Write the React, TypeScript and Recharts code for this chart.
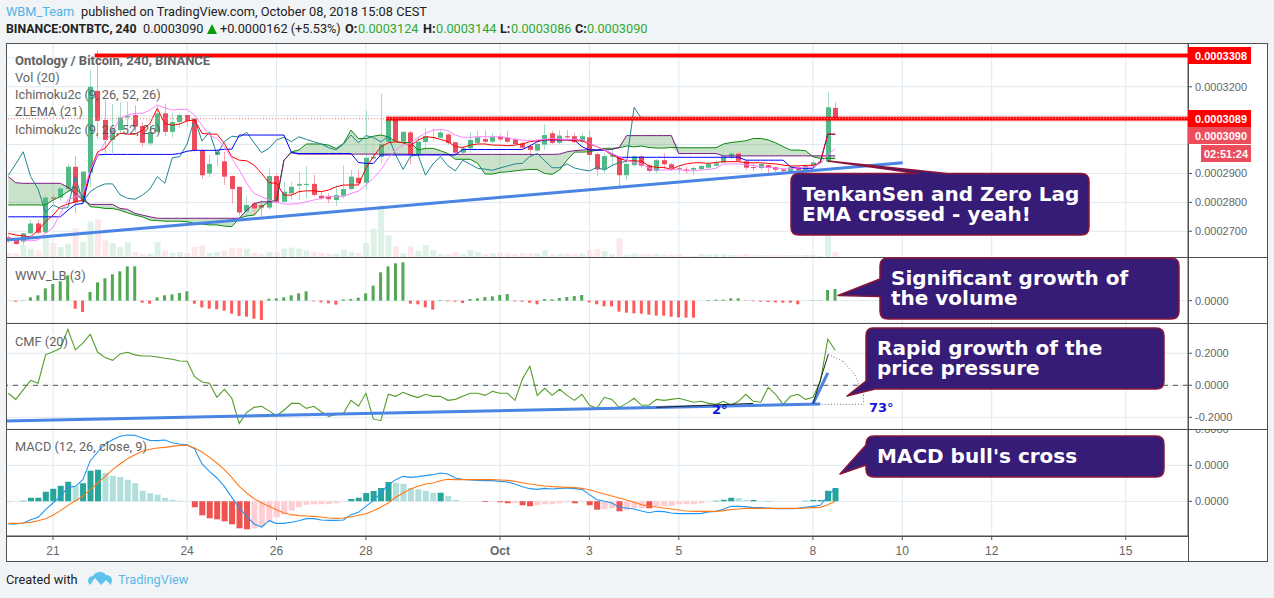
import {
  Area,
  Bar,
  CartesianGrid,
  Cell,
  ComposedChart,
  Line,
  ReferenceLine,
  XAxis,
  YAxis,
} from "recharts";

// ONTBTC 4h candles, prices in units of 1e-7 BTC
const opens = [
  2679,2670,2664,2693,2727,2696,2817,2817,2846,2923,
  2802,2903,3186,3085,3016,3050,3094,3102,3064,3004,
  3044,3108,3044,3078,3102,3090,2979,2900,2964,2942,
  2891,2854,2768,2796,2791,2782,2891,2802,2831,2858,
  2860,2864,2823,2820,2808,2823,2846,2885,2868,2952,
  2958,3010,3090,3010,3042,2967,3009,3024,3024,3035,
  3008,2972,2987,3006,3019,3010,3027,3024,3019,3004,
  2995,2979,3000,3039,3006,3029,3029,3010,3025,2967,
  2914,2958,2956,2894,2929,2959,2928,2909,2946,2932,
  2918,2914,2913,2915,2920,2927,2938,2958,2969,2942,
  2922,2919,2929,2922,2914,2907,2921,2912,2927,2938,2941,3127,
];
const closes = [
  2667,2656,2693,2727,2695,2817,2813,2848,2923,2800,
  2906,3200,3082,3016,3050,3094,3099,3062,3006,3044,
  3108,3044,3078,3102,3082,2981,2894,2933,2975,2889,
  2846,2765,2791,2779,2782,2891,2802,2837,2854,2864,
  2864,2826,2814,2811,2825,2846,2889,2866,2954,2958,
  3002,3090,3012,3044,2966,3010,3029,3026,3042,3006,
  2972,2987,3016,3025,3010,3027,3018,3010,3002,2989,
  2982,3002,3033,3006,3031,3025,3009,3029,2964,2914,
  2960,2964,2894,2933,2959,2927,2909,2946,2932,2918,
  2915,2911,2919,2926,2933,2935,2959,2969,2944,2920,
  2920,2933,2919,2913,2909,2921,2912,2927,2938,2941,3129,3090,
];
const highs = [
  2687,2672,2695,2739,2739,2831,2825,2855,2930,2960,
  2910,3260,3327,3154,3140,3148,3148,3136,3079,3073,
  3136,3142,3108,3108,3104,3092,2985,2965,2981,2975,
  2893,2855,2820,2802,2808,2917,2900,2871,2871,2906,
  2925,2895,2837,2831,2860,2928,2912,2912,3119,3021,
  3177,3102,3092,3048,3048,3027,3056,3056,3050,3038,
  3010,2995,3044,3048,3050,3040,3035,3048,3024,3012,
  3000,3016,3070,3048,3050,3050,3040,3040,3050,2972,
  2970,2985,2958,2935,2964,2965,2932,2950,2970,2936,
  2925,2925,2925,2930,2938,2945,2980,2975,2975,2945,
  2932,2938,2932,2925,2916,2926,2925,2932,2945,2945,3181,3146,
];
const lows = [
  2660,2654,2652,2687,2690,2692,2795,2805,2840,2762,
  2795,2853,3021,2969,2970,3040,3056,3044,2992,2995,
  3040,3030,3024,3056,3062,2972,2882,2888,2925,2860,
  2796,2755,2750,2756,2750,2774,2796,2800,2808,2808,
  2814,2820,2808,2797,2788,2814,2843,2864,2843,2948,
  2935,2981,3005,3004,2932,2960,2970,3010,3020,3000,
  2965,2965,2970,3000,3006,3005,3012,3005,3000,2984,
  2964,2975,2981,3000,3002,3018,3005,3004,2941,2892,
  2900,2925,2846,2877,2923,2920,2903,2900,2915,2915,
  2900,2900,2895,2910,2914,2922,2935,2950,2940,2912,
  2910,2910,2900,2905,2905,2900,2908,2905,2925,2935,2935,3088,
];
const volumes = [
  12,10,35,25,20,60,42,30,40,87,
  45,107,113,50,42,30,45,15,10,10,
  45,20,12,15,12,30,35,12,15,20,
  28,28,25,12,10,15,15,25,28,25,
  20,15,12,10,10,22,15,12,42,85,
  155,65,32,11,31,19,36,21,9,9,
  15,9,21,15,9,11,13,11,9,11,
  11,11,21,9,9,11,9,11,21,24,
  18,9,56,6,11,8,8,8,7,7,
  9,3,3,9,7,9,9,6,6,9,
  6,6,6,6,6,6,6,6,6,3,120,15,
];
const tenkan = [
  2693,2687,2684,2681,2704,2733,2756,2785,2794,2802,
  2808,2912,2975,2987,3021,3039,3036,3036,3050,3073,
  3125,3073,3067,3071,3082,3085,3039,3036,3036,3004,
  2958,2946,2944,2929,2900,2868,2866,2825,2825,2837,
  2840,2840,2837,2843,2854,2860,2860,2860,2918,2958,
  2992,3006,3010,3006,2995,3016,3027,3025,3018,3010,
  2993,2990,2998,3002,3002,2998,2998,2996,2998,3002,
  3010,3013,3016,3018,3016,3016,3013,3013,3002,2993,
  2981,2964,2952,2944,2944,2942,2926,2921,2921,2914,
  2926,2933,2937,2937,2935,2938,2941,2941,2941,2937,
  2937,2937,2935,2933,2929,2926,2926,2928,2928,2937,3036,3036,
];
const kijun = [
  2750,2750,2750,2750,2750,2750,2750,2750,2773,2793,
  2796,2900,2964,2966,2966,2966,2966,2966,2966,2966,
  2966,2966,2966,2969,2977,2980,2980,2980,2980,2984,
  2984,3033,3033,3033,3033,3033,3033,3033,2973,2969,
  2969,2969,2969,2969,2969,2969,2969,2938,2935,2935,
  2964,2964,2964,2964,2964,2964,2964,2964,2964,2964,
  2964,2983,2983,2983,2983,2983,2983,2983,2983,2983,
  2995,3010,3016,3016,3016,3016,3016,2993,2981,2981,
  2981,2969,2956,2956,2956,2956,2956,2956,2956,2956,
  2956,2956,2956,2956,2956,2956,2956,2956,2956,2946,
  2946,2946,2946,2946,2946,2923,2918,2918,2918,2941,3036,3036,
];
const zlema = [
  2675,2670,2670,2667,2670,2693,2713,2762,2808,2820,
  2831,2912,2964,3010,3044,3090,3102,3108,3108,3119,
  3137,3127,3119,3122,3122,3102,3067,3033,3021,2992,
  2952,2912,2866,2831,2820,2808,2801,2794,2794,2796,
  2802,2808,2814,2820,2820,2820,2831,2839,2860,2883,
  2912,2952,2981,2998,3004,3025,3039,3050,3052,3048,
  3033,3025,3025,3027,3027,3027,3027,3024,3018,3016,
  3013,3016,3018,3021,3019,3018,3018,3018,3004,2993,
  2981,2969,2958,2946,2937,2933,2918,2912,2912,2912,
  2914,2909,2909,2912,2914,2918,2933,2933,2933,2930,
  2928,2923,2921,2919,2916,2916,2919,2921,2923,2935,2964,2987,
];
const spanA = [
  2791,2791,2791,2791,2791,2791,2808,2820,2837,2854,
  2820,2785,2783,2779,2779,2773,2764,2756,2750,2739,
  2737,2735,2735,2735,2733,2727,2725,2722,2722,2718,
  2716,2745,2753,2756,2785,2802,2808,2946,2975,2981,
  3002,3002,3002,2998,2987,3004,3050,3021,3021,3029,
  3033,3027,3010,3007,3007,2981,2987,2987,2979,2969,
  2949,2949,2949,2935,2898,2898,2904,2906,2909,2912,
  2914,2914,2900,2897,2912,2946,2974,2974,2975,2981,
  2987,2987,2989,2995,2992,2995,2990,2988,2988,2990,
  2989,2989,2989,2989,2989,2989,3002,3007,3010,3013,
  3021,3021,3016,3006,2993,2981,2981,2979,2958,2952,2952,2952,
];
const spanB = [
  2889,2868,2866,2866,2866,2866,2866,2866,2852,2831,
  2808,2793,2793,2793,2793,2779,2776,2762,2756,2750,
  2745,2745,2745,2745,2745,2745,2745,2745,2745,2745,
  2745,2745,2773,2796,2802,2802,2802,2946,2972,2967,
  2967,2967,2967,2967,2967,2967,2967,2967,2967,2967,
  2967,2967,2967,2967,2966,2966,2966,2966,2966,2966,
  2966,2966,2966,2966,2966,2966,2966,2966,2966,2966,
  2966,2966,2966,2966,2967,2975,2979,2981,2983,2981,
  2981,2983,2990,3031,3031,3031,3031,3031,3031,3031,
  2969,2969,2969,2969,2969,2969,2961,2961,2961,2961,
  2961,2961,2961,2961,2961,2961,2961,2961,2961,2961,2961,2961,
];
// lagging span stops 26 bars before the last candle
const chikou = [
  2894,2933,2975,2889,2846,2765,2791,2779,2782,2891,
  2802,2837,2854,2864,2864,2826,2814,2811,2825,2846,
  2889,2866,2954,2958,3002,3090,3012,3044,2966,3010,
  3029,3026,3042,3006,2972,2987,3016,3025,3010,3027,
  3018,3010,3002,2989,2982,3002,3033,3006,3031,3025,
  3009,3029,2964,2914,2960,2964,2894,2933,2959,2927,
  2909,2946,2932,2918,2915,2911,2919,2926,2933,2935,
  2959,2969,2944,2920,2920,2933,2919,2913,2909,2921,
  2912,2927,2938,2941,3129,3090,
];
const wwv = [
  0,-3,1,10,16,37,50,58,76,-24,
  -34,26,55,67,79,88,103,103,-6,-9,
  10,16,19,23,28,-9,-20,-24,-26,-30,
  -39,-46,-48,-54,-58,6,7,10,16,22,
  28,-2,-5,-8,-12,4,5,9,22,45,
  85,103,112,115,-9,-11,-20,-27,2,-2,
  -3,-7,5,7,11,13,17,20,-2,-3,
  -6,-11,5,4,8,11,14,17,-5,-11,
  -17,-17,-33,-36,-38,-39,-42,-45,-45,-48,
  -50,-51,-51,0,2,3,3,7,7,-1,
  -2,-3,-4,-5,-6,-6,-11,0,1,1,32,35,
];
const cmf = [
  -0.05,-0.088,-0.029,0.031,0.013,0.19,0.21,0.231,0.35,0.221,
  0.263,0.319,0.206,0.173,0.156,0.196,0.206,0.19,0.183,0.183,
  0.177,0.169,0.163,0.152,0.15,0.054,0.021,0.013,-0.075,-0.025,
  -0.081,-0.238,-0.169,-0.138,-0.131,-0.16,-0.19,-0.156,-0.113,-0.113,
  -0.144,-0.131,-0.165,-0.194,-0.183,-0.175,-0.094,-0.131,-0.05,-0.21,
  -0.221,-0.056,-0.069,-0.044,-0.063,-0.077,-0.056,-0.069,-0.069,-0.094,
  -0.088,-0.069,-0.05,-0.05,-0.063,-0.038,-0.05,-0.05,-0.094,0.038,
  0.119,-0.063,-0.019,-0.063,-0.025,-0.063,-0.094,-0.056,-0.125,-0.144,
  -0.075,-0.088,-0.138,-0.113,-0.081,-0.125,-0.125,-0.088,-0.094,-0.088,
  -0.081,-0.094,-0.106,-0.1,-0.113,-0.119,-0.1,-0.125,-0.1,-0.056,
  -0.1,-0.106,-0.013,-0.056,-0.119,-0.069,-0.056,-0.088,-0.075,0.023,0.288,0.219,
];
const macdLine = [
  -68,-68,-65,-55,-48,-25,-5,15,42,45,
  65,122,148,172,185,195,199,198,190,183,
  182,184,176,172,170,158,112,90,70,45,
  12,-20,-45,-68,-77,-58,-66,-66,-63,-58,
  -52,-52,-56,-57,-57,-56,-40,-33,-15,2,
  25,50,65,75,72,74,77,80,85,82,
  70,66,64,63,62,62,60,58,52,44,
  38,36,39,37,39,40,38,36,20,5,
  0,-5,-18,-20,-23,-29,-34,-30,-31,-35,
  -37,-37,-37,-36,-32,-30,-24,-15,-15,-16,
  -19,-19,-20,-22,-22,-22,-21,-18,-15,-12,15,40,
];
const signalLine = [
  -66,-66,-65,-63,-58,-52,-42,-28,-12,2,
  15,35,55,75,95,112,128,140,150,156,
  160,162,165,168,168,160,148,132,115,95,
  72,45,25,8,-5,-15,-25,-35,-40,-43,
  -44,-45,-47,-50,-51,-50,-46,-42,-37,-28,
  -18,-5,12,25,37,45,52,55,62,66,
  65,65,65,65,65,65,64,63,60,56,
  52,49,46,44,43,42,41,39,35,28,
  22,16,10,4,-3,-10,-14,-17,-20,-23,
  -26,-29,-30,-30,-30,-30,-28,-25,-23,-21,
  -21,-21,-21,-21,-21,-21,-21,-20,-19,-18,-10,0,
];
const macdHist = [
  -3,0,2,11,11,29,38,47,59,47,
  54,92,95,86,77,73,65,54,32,24,
  20,11,5,2,0,-18,-42,-51,-54,-60,
  -69,-81,-84,-81,-74,-60,-48,-39,-28,-18,
  -10,-9,-9,-8,-6,0,7,11,25,31,
  40,58,56,53,40,36,32,26,26,16,
  4,0,0,0,-2,0,-3,-6,-5,-12,
  -15,-12,-9,-9,-6,-3,-6,-2,-12,-25,
  -24,-21,-30,-26,-20,-20,-21,-14,-14,-13,
  -9,-9,-9,-6,0,2,5,11,9,4,
  4,1,1,0,0,0,0,2,4,4,32,40,
];

// bar index of each date label on the time scale
const dayTicks = [6, 24, 36, 48, 66, 78, 90, 108, 120, 132, 150];
const dayLabels = ["21", "24", "26", "28", "Oct", "3", "5", "8", "10", "12", "15"];
const priceGrid = [2700, 2800, 2900, 3000, 3100, 3200, 3300];
// 3000, 3100 and 3300 sit behind the price tags in the reference
const priceTicks = [2700, 2800, 2900, 3200];

const X_DOMAIN = [-0.31, 158.35];
const CHART_W = 1262;
const AXIS_W = 80;
const AXIS_FONT = { fontSize: 11, fill: "#666", fontFamily: "Liberation Sans" };
const GRID = "#dfe8ef";
const LABEL = "Roboto, sans-serif";
const HEAD_GREEN = "#2ea82e";

const rows = opens.map((open, i) => ({
  i,
  open,
  close: closes[i],
  high: highs[i],
  low: lows[i],
  range: [lows[i], highs[i]],
  volume: volumes[i],
  tenkan: tenkan[i],
  kijun: kijun[i],
  zlema: zlema[i],
  spanA: spanA[i],
  spanB: spanB[i],
  cloud: [Math.min(spanA[i], spanB[i]), Math.max(spanA[i], spanB[i])],
  chikou: i < chikou.length ? chikou[i] : null,
  wwv: wwv[i],
  cmf: cmf[i],
  macd: macdLine[i],
  signal: signalLine[i],
  hist: macdHist[i],
}));

function histColor(i: number) {
  const v = macdHist[i];
  const prev = i > 0 ? macdHist[i - 1] : v;
  if (v >= 0) return v >= prev ? "#26a69a" : "#b2dfdb";
  return v < prev ? "#ef5350" : "#ffcdd2";
}

function Candle(props: any) {
  const { x, y, width, height, payload } = props;
  const { open, close, high, low } = payload;
  const up = close >= open;
  const unit = height / (high - low);
  const top = y + (high - Math.max(open, close)) * unit;
  const bodyH = Math.max(1, Math.abs(close - open) * unit);
  const cx = Math.round(x + width / 2) + 0.5;
  return (
    <g>
      <line x1={cx} x2={cx} y1={y} y2={y + height} stroke={up ? "#a9dcc3" : "#f5a6ae"} />
      <rect x={cx - 2.5} y={top} width={5} height={bodyH} fill={up ? "#53b987" : "#eb4d5c"} />
    </g>
  );
}

function DayTick(props: any) {
  const { x, y, index } = props;
  const label = dayLabels[index];
  return (
    <text
      x={x}
      y={y + 13}
      textAnchor="middle"
      fontFamily="Liberation Sans"
      fontSize={12}
      fontWeight={label === "Oct" ? 700 : 400}
      fill="#666"
    >
      {label}
    </text>
  );
}

function layer(top: number): React.CSSProperties {
  return { position: "absolute", left: 6, top };
}

function Callout({ d, lines, x, y }: { d: string; lines: string[]; x: number; y: number }) {
  return (
    <g>
      <path d={d} fill="#371c77" stroke="#8a1538" strokeWidth={1.5} strokeLinejoin="round" />
      {lines.map((t, n) => (
        <text
          key={t}
          x={x}
          y={y + n * 20}
          fill="#fff"
          fontFamily="DejaVu Sans"
          fontWeight={700}
          fontSize={20}
        >
          {t}
        </text>
      ))}
    </g>
  );
}

function PriceTag({ y, h, x = 1188, fill, text }: { y: number; h: number; x?: number; fill: string; text: string }) {
  return (
    <g>
      <rect x={x} y={y} width={1251 - x} height={h} fill={fill} />
      <text x={1195 + (x > 1188 ? 9 : 0)} y={y + h / 2 + 4} fill="#fff" fontFamily="Liberation Sans" fontWeight={700} fontSize={11}>
        {text}
      </text>
    </g>
  );
}

function Head({ x, y = 20, size = 12.7, color = "#222", bold, children }: any) {
  return (
    <span
      style={{
        position: "absolute",
        left: x,
        top: y,
        fontFamily: LABEL,
        fontSize: size,
        lineHeight: "18px",
        fontWeight: bold ? 700 : 400,
        color,
        whiteSpace: "nowrap",
      }}
    >
      {children}
    </span>
  );
}

export default function App() {
  return (
    <div style={{ position: "fixed", left: 0, top: 0, width: 1274, height: 598, background: "#f1f4f7", overflow: "hidden" }}>
      <div style={{ position: "absolute", left: 6, top: 43, width: 1262, height: 518, background: "#fff" }} />

      {/* volume sits under the price layer on its own scale */}
      <ComposedChart style={layer(44)} width={CHART_W} height={213} data={rows} margin={{ top: 0, right: AXIS_W, bottom: 0, left: 0 }}>
        <XAxis dataKey="i" type="number" domain={X_DOMAIN} ticks={dayTicks} hide allowDataOverflow />
        <YAxis hide domain={[0, 640]} />
        <Bar dataKey="volume" barSize={6} isAnimationActive={false}>
          {rows.map((r) => (
            <Cell key={r.i} fill={r.close >= r.open ? "rgba(83,185,135,0.2)" : "rgba(235,77,92,0.13)"} />
          ))}
        </Bar>
      </ComposedChart>

      {/* candles, ichimoku, zlema, drawn trend lines */}
      <ComposedChart style={layer(44)} width={CHART_W} height={213} data={rows} margin={{ top: 0, right: 0, bottom: 0, left: 0 }}>
        <CartesianGrid stroke={GRID} verticalValues={dayTicks} horizontalValues={priceGrid} />
        <XAxis dataKey="i" type="number" domain={X_DOMAIN} ticks={dayTicks} hide allowDataOverflow />
        <YAxis
          orientation="right"
          width={AXIS_W}
          domain={[2611, 3348]}
          ticks={priceTicks}
          interval={0}
          tick={AXIS_FONT}
          tickSize={4}
          tickMargin={3}
          tickLine={{ stroke: "#555" }}
          axisLine={{ stroke: "#555" }}
          tickFormatter={(v) => (v / 1e7).toFixed(7)}
        />
        <Bar dataKey="range" barSize={5} shape={<Candle />} isAnimationActive={false} />
        <Area dataKey="cloud" type="linear" stroke="none" fill="rgba(60,150,60,0.28)" fillOpacity={1} isAnimationActive={false} />
        <Line dataKey="spanA" type="linear" stroke="#0c880c" strokeWidth={1} dot={false} isAnimationActive={false} />
        <Line dataKey="spanB" type="linear" stroke="#7d1a86" strokeWidth={1} dot={false} isAnimationActive={false} />
        <Line dataKey="chikou" type="linear" stroke="#1f8592" strokeWidth={1} dot={false} isAnimationActive={false} />
        <Line dataKey="kijun" type="linear" stroke="#0000ff" strokeWidth={1} dot={false} isAnimationActive={false} />
        <Line dataKey="tenkan" type="linear" stroke="#ff0000" strokeWidth={1} dot={false} isAnimationActive={false} />
        <Line dataKey="zlema" type="linear" stroke="#ff80ff" strokeWidth={1} dot={false} isAnimationActive={false} />
        <ReferenceLine y={3090} stroke="#ef5350" strokeDasharray="1 2" />
        <ReferenceLine segment={[{ x: 11.6, y: 3308 }, { x: 158.35, y: 3308 }]} stroke="rgba(255,0,0,0.45)" strokeWidth={5} />
        <ReferenceLine segment={[{ x: 11.6, y: 3308 }, { x: 158.35, y: 3308 }]} stroke="#ff0000" strokeWidth={3} />
        <ReferenceLine segment={[{ x: 50.7, y: 3089 }, { x: 158.35, y: 3089 }]} stroke="rgba(255,0,0,0.45)" strokeWidth={5} />
        <ReferenceLine segment={[{ x: 50.7, y: 3089 }, { x: 158.35, y: 3089 }]} stroke="#ff0000" strokeWidth={3} />
        <ReferenceLine y={3090} stroke="#ff8a8a" strokeDasharray="1 2" />
        <ReferenceLine segment={[{ x: -0.2, y: 2670 }, { x: 120.05, y: 2937 }]} stroke="#4a84e4" strokeWidth={3} />
      </ComposedChart>

      {/* WWV_LB */}
      <ComposedChart style={layer(257)} width={CHART_W} height={66} data={rows} margin={{ top: 0, right: 0, bottom: 0, left: 0 }}>
        <CartesianGrid stroke={GRID} verticalValues={dayTicks} />
        <XAxis dataKey="i" type="number" domain={X_DOMAIN} ticks={dayTicks} hide allowDataOverflow />
        <YAxis
          orientation="right"
          width={AXIS_W}
          domain={[-67, 131]}
          ticks={[0]}
          tick={AXIS_FONT}
          tickSize={4}
          tickMargin={3}
          tickLine={{ stroke: "#555" }}
          axisLine={{ stroke: "#555" }}
          tickFormatter={(v) => (v * 1e-7).toFixed(4)}
        />
        <Bar dataKey="wwv" barSize={3} isAnimationActive={false}>
          {rows.map((r) => (
            <Cell key={r.i} fill={r.wwv >= 0 ? "#53a853" : "#ff5a5a"} />
          ))}
        </Bar>
      </ComposedChart>

      {/* CMF */}
      <ComposedChart style={layer(323)} width={CHART_W} height={106} data={rows} margin={{ top: 0, right: 0, bottom: 0, left: 0 }}>
        <CartesianGrid stroke={GRID} verticalValues={dayTicks} />
        <XAxis dataKey="i" type="number" domain={X_DOMAIN} ticks={dayTicks} hide allowDataOverflow />
        <YAxis
          orientation="right"
          width={AXIS_W}
          domain={[-0.273, 0.389]}
          ticks={[-0.2, 0, 0.2]}
          interval={0}
          tick={AXIS_FONT}
          tickSize={4}
          tickMargin={3}
          tickLine={{ stroke: "#555" }}
          axisLine={{ stroke: "#555" }}
          tickFormatter={(v) => v.toFixed(4)}
        />
        <ReferenceLine y={0} stroke="#555" strokeDasharray="5 5" />
        <Line dataKey="cmf" type="linear" stroke="#559c2c" strokeWidth={1.1} dot={false} isAnimationActive={false} />
        <ReferenceLine segment={[{ x: -0.3, y: -0.223 }, { x: 109, y: -0.117 }]} stroke="#4a84e4" strokeWidth={3} />
        <ReferenceLine segment={[{ x: 108, y: -0.117 }, { x: 110, y: 0.077 }]} stroke="#4a84e4" strokeWidth={3} />
        <ReferenceLine segment={[{ x: 108, y: -0.117 }, { x: 110.07, y: 0.194 }]} stroke="#222" />
        <ReferenceLine segment={[{ x: 87, y: -0.138 }, { x: 100, y: -0.113 }]} stroke="#222" />
        <ReferenceLine segment={[{ x: 108, y: -0.119 }, { x: 114.8, y: -0.119 }]} stroke="#777" strokeDasharray="1 2" />
        <ReferenceLine segment={[{ x: 110.07, y: 0.194 }, { x: 112.1, y: 0.148 }]} stroke="#777" strokeDasharray="1 2" />
        <ReferenceLine segment={[{ x: 112.1, y: 0.148 }, { x: 113.65, y: 0.064 }]} stroke="#777" strokeDasharray="1 2" />
        <ReferenceLine segment={[{ x: 113.65, y: 0.064 }, { x: 114.8, y: -0.06 }]} stroke="#777" strokeDasharray="1 2" />
        <ReferenceLine segment={[{ x: 114.8, y: -0.06 }, { x: 114.8, y: -0.119 }]} stroke="#777" strokeDasharray="1 2" />
      </ComposedChart>

      {/* MACD and the time scale */}
      <ComposedChart style={layer(429)} width={CHART_W} height={132} data={rows} margin={{ top: 0, right: 0, bottom: 0, left: 0 }}>
        <CartesianGrid stroke={GRID} verticalValues={dayTicks} />
        <XAxis
          dataKey="i"
          type="number"
          domain={X_DOMAIN}
          ticks={dayTicks}
          interval={0}
          height={25}
          tick={<DayTick />}
          tickSize={4}
          tickLine={{ stroke: "#555" }}
          axisLine={{ stroke: "#555" }}
          allowDataOverflow
        />
        <YAxis
          orientation="right"
          width={AXIS_W}
          domain={[-104, 217]}
          ticks={[0, 108, 216]}
          interval={0}
          tick={AXIS_FONT}
          tickSize={4}
          tickMargin={3}
          tickLine={{ stroke: "#555" }}
          axisLine={{ stroke: "#555" }}
          tickFormatter={(v) => (v * 1e-7).toFixed(4)}
        />
        <Bar dataKey="hist" barSize={6} isAnimationActive={false}>
          {rows.map((r) => (
            <Cell key={r.i} fill={histColor(r.i)} />
          ))}
        </Bar>
        <Line dataKey="macd" type="linear" stroke="#2196f3" strokeWidth={1.1} dot={false} isAnimationActive={false} />
        <Line dataKey="signal" type="linear" stroke="#ff7a1a" strokeWidth={1.1} dot={false} isAnimationActive={false} />
      </ComposedChart>

      {/* frame, pane legends, price tags and callouts */}
      <svg width={1274} height={598} style={{ position: "absolute", left: 0, top: 0 }}>
        <g stroke="#4f4f4f" fill="none">
          <rect x={6.5} y={43.5} width={1261} height={518} />
          <path d="M6 257.5H1268M6 323.5H1268M6 429.5H1268M6 536.5H1188M1188.5 43V561" />
        </g>

        <g fontFamily={LABEL} fontSize={12.8} fill="#555" opacity={0.92}>
          <text x={15} y={65} fontWeight={700} fontSize={13}>Ontology / Bitcoin, 240, BINANCE</text>
          <text x={15} y={82}>Vol (20)</text>
          <text x={15} y={99}>Ichimoku2c (9, 26, 52, 26)</text>
          <text x={15} y={116}>ZLEMA (21)</text>
          <text x={15} y={134}>Ichimoku2c (9, 26, 52, 26)</text>
          <text x={15} y={280}>WWV_LB (3)</text>
          <text x={15} y={346}>CMF (20)</text>
          <text x={15} y={451}>MACD (12, 26, close, 9)</text>
        </g>

        <text x={712} y={414} fill="#1414e6" fontFamily="DejaVu Sans" fontWeight={700} fontSize={13}>2°</text>
        <text x={869} y={412} fill="#1414e6" fontFamily="DejaVu Sans" fontWeight={700} fontSize={13}>73°</text>

        <PriceTag y={47} h={17} fill="#ff0000" text="0.0003308" />
        <PriceTag y={110} h={17} fill="#ff0000" text="0.0003089" />
        <PriceTag y={127} h={17} fill="#eb4d5c" text="0.0003090" />
        <PriceTag y={145} h={17} x={1201} fill="#eb4d5c" text="02:51:24" />

        <Callout
          d="M799 173.5H918L828 161L947 173.5H1081Q1089 173.5 1089 181.5V227Q1089 235 1081 235H799Q791 235 791 227V181.5Q791 173.5 799 173.5Z"
          lines={["TenkanSen and Zero Lag", "EMA crossed - yeah!"]}
          x={802}
          y={201}
        />
        <Callout
          d="M888 258H1171Q1179 258 1179 266V311Q1179 319 1171 319H888Q880 319 880 311V296.5L838 295.5L880 279V266Q880 258 888 258Z"
          lines={["Significant growth of", "the volume"]}
          x={891}
          y={285}
        />
        <Callout
          d="M873 328H1156Q1164 328 1164 336V381Q1164 389 1156 389H875L847 396L866 381V336Q866 328 873 328Z"
          lines={["Rapid growth of the", "price pressure"]}
          x={877}
          y={355}
        />
        <Callout
          d="M874 436H1156Q1164 436 1164 444V469Q1164 477 1156 477H874Q866 477 866 469V465L840 474L866 445V444Q866 436 874 436Z"
          lines={["MACD bull's cross"]}
          x={877}
          y={463}
        />

        <path d="M207 34L212 24L217 34Z" fill="#0a9a0a" />
        <path d="M88 582Q88 576 93 576Q95 572 100 572Q104 572 106 575Q111 575 112 580L111 585L106 580L101 585L95 578L90 585Z" fill="#5cc3ea" />
      </svg>

      {/* header and footer */}
      <Head x={6} y={3} size={12.8} color="#4fb3e8">WBM_Team</Head>
      <Head x={81} y={3} size={12.8}>published on TradingView.com, October 08, 2018 15:08 CEST</Head>
      <Head x={6} bold size={12.3}>BINANCE:ONTBTC, 240</Head>
      <Head x={143}>0.0003090</Head>
      <Head x={220}>+0.0000162 (+5.53%)</Head>
      <Head x={345} bold>O:</Head>
      <Head x={358} color={HEAD_GREEN}>0.0003124</Head>
      <Head x={423} bold>H:</Head>
      <Head x={436} color={HEAD_GREEN}>0.0003144</Head>
      <Head x={500} bold>L:</Head>
      <Head x={511} color={HEAD_GREEN}>0.0003086</Head>
      <Head x={575} bold>C:</Head>
      <Head x={587} color={HEAD_GREEN}>0.0003090</Head>
      <Head x={6} y={571} size={12.8}>Created with</Head>
      <Head x={118} y={571} size={12.8} color="#5cb8e6">TradingView</Head>
    </div>
  );
}
